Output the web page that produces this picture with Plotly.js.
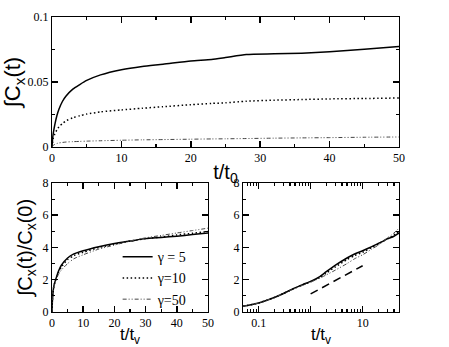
<!DOCTYPE html>
<html>
<head>
<meta charset="utf-8">
<script src="https://cdn.plot.ly/plotly-3.0.1.min.js"></script>
<style>
  html, body { margin: 0; padding: 0; background: #fff; }
  #chart { width: 449px; height: 347px; }
</style>
</head>
<body>
<div id="chart"></div>
<script>
// top panel: integral of C_x(t) vs t/t0
var tTop = [0, 0.1, 0.2, 0.4, 0.7, 1, 1.5, 2, 3, 4, 5, 7, 10, 13, 16, 20, 23, 25, 28, 32, 36, 40, 45, 50];
var topG5 = [0, 0.007, 0.011, 0.017, 0.024, 0.029, 0.035, 0.039, 0.0445, 0.048, 0.0512, 0.0555, 0.0595, 0.062, 0.0637, 0.0662, 0.0673, 0.0688, 0.0712, 0.0717, 0.0722, 0.0732, 0.0752, 0.0773];
var topG10 = [0, 0.004, 0.007, 0.010, 0.013, 0.0155, 0.018, 0.020, 0.0225, 0.024, 0.0253, 0.027, 0.0285, 0.0298, 0.031, 0.0325, 0.0335, 0.034, 0.0352, 0.036, 0.0365, 0.037, 0.0373, 0.0377];
var topG50 = [0, 0.0008, 0.0013, 0.002, 0.0027, 0.0031, 0.0035, 0.0038, 0.0041, 0.0043, 0.0045, 0.0048, 0.0052, 0.0055, 0.0057, 0.006, 0.0062, 0.0063, 0.0065, 0.0068, 0.007, 0.0072, 0.0075, 0.0077];

// bottom panels: normalized integral vs t/tv
var tNorm = [0, 0.05, 0.1, 0.2, 0.3, 0.5, 0.7, 1, 1.5, 2, 3, 5, 7, 10, 15, 20, 25, 30, 35, 40, 45, 50];
var normG5 = [0, 0.35, 0.56, 0.9, 1.15, 1.5, 1.7, 1.9, 2.2, 2.5, 2.9, 3.35, 3.6, 3.8, 4.05, 4.25, 4.4, 4.55, 4.62, 4.7, 4.8, 4.9];
var normG10 = [0, 0.35, 0.56, 0.9, 1.15, 1.48, 1.68, 1.88, 2.15, 2.42, 2.8, 3.25, 3.5, 3.7, 4.0, 4.2, 4.4, 4.55, 4.65, 4.78, 4.88, 5.0];
var normG50 = [0, 0.35, 0.56, 0.9, 1.14, 1.46, 1.65, 1.85, 2.1, 2.3, 2.6, 3.0, 3.3, 3.55, 3.9, 4.15, 4.4, 4.6, 4.75, 4.9, 5.05, 5.2];

// reference slope segment in the log panel
var tGuide = [1, 10];
var guideVals = [1.12, 2.87];

var seriesNames = ['\u03b3 = 5', '\u03b3=10', '\u03b3=50'];
var dashes = ['solid', '1.5px,2.5px', '4px,2px,1px,2px,1px,2px'];
var widths = [1.5, 1.5, 1];
var colors = ['black', 'black', '#444'];

var serif = 'Liberation Serif';
var sans = 'Liberation Sans';

var data = [];
[topG5, topG10, topG50].forEach(function (v, i) {
  data.push({x: tTop, y: v, xaxis: 'x', yaxis: 'y', mode: 'lines', showlegend: false,
    line: {color: colors[i], width: widths[i], dash: dashes[i], shape: 'spline', smoothing: 0.6}});
});
[normG5, normG10, normG50].forEach(function (v, i) {
  data.push({x: tNorm, y: v, xaxis: 'x2', yaxis: 'y2', mode: 'lines', name: seriesNames[i],
    line: {color: colors[i], width: widths[i], dash: dashes[i], shape: 'spline', smoothing: 0.6}});
});
[normG5, normG10, normG50].forEach(function (v, i) {
  data.push({x: tNorm.slice(1), y: v.slice(1), xaxis: 'x3', yaxis: 'y3', mode: 'lines', showlegend: false,
    line: {color: colors[i], width: widths[i], dash: dashes[i], shape: 'spline', smoothing: 0.6}});
});
data.push({x: tGuide, y: guideVals, xaxis: 'x3', yaxis: 'y3', mode: 'lines', showlegend: false,
  line: {color: 'black', width: 1.5, dash: '8px,5px'}});

function frame(extra) {
  var a = {
    showline: true, linecolor: '#000000', linewidth: 1, mirror: 'allticks',
    ticks: 'inside', ticklen: 6, tickcolor: '#000000', tickwidth: 1.5,
    showgrid: false, zeroline: false, layer: 'above traces',
    tickfont: {family: serif, size: 12, color: 'black'}
  };
  for (var k in extra) a[k] = extra[k];
  return a;
}

var minorLin = function (step) {
  return {dtick: step, ticks: 'inside', ticklen: 3, tickwidth: 1.2, tickcolor: '#000000'};
};

var logMinor = [0.05, 0.06, 0.07, 0.08, 0.09, 0.2, 0.3, 0.4, 0.5, 0.6, 0.7, 0.8, 0.9,
  2, 3, 4, 5, 6, 7, 8, 9, 20, 30, 40, 50];

var layout = {
  width: 449, height: 347,
  margin: {l: 0, r: 0, t: 0, b: 0},
  paper_bgcolor: 'white', plot_bgcolor: 'rgba(0,0,0,0)',
  font: {family: serif, color: 'black'},
  xaxis: frame({domain: [0.1158, 0.8886], anchor: 'y', range: [0, 50], dtick: 10,
    minor: minorLin(5),
    title: {text: 't/t<sub>0</sub>', font: {family: sans, size: 20, color: 'black'}, standoff: 0}}),
  yaxis: frame({domain: [0.5764, 0.951], anchor: 'x', range: [0, 0.1], dtick: 0.05,
    minor: minorLin(0.025),
    title: {text: '\u222bC<sub>x</sub>(t)', font: {family: sans, size: 22, color: 'black'}, standoff: 4}}),
  xaxis2: frame({domain: [0.1158, 0.4633], anchor: 'y2', range: [0, 50], dtick: 10,
    minor: minorLin(5),
    title: {text: 't/t<sub>v</sub>', font: {family: sans, size: 17, color: 'black'}, standoff: 2}}),
  yaxis2: frame({domain: [0.1009, 0.4726], anchor: 'x2', range: [0, 8], dtick: 2,
    minor: minorLin(1),
    title: {text: '\u222bC<sub>x</sub>(t)/C<sub>x</sub>(0)', font: {family: sans, size: 20, color: 'black'}, standoff: 4}}),
  xaxis3: frame({domain: [0.5412, 0.8886], anchor: 'y3', type: 'log',
    range: [Math.log10(0.05), Math.log10(50)],
    tickvals: [0.1, 1, 10], ticktext: ['0.1', '', '10'],
    minor: {tickvals: logMinor, ticks: 'inside', ticklen: 3, tickwidth: 1.2, tickcolor: '#000000'},
    title: {text: 't/t<sub>v</sub>', font: {family: sans, size: 17, color: 'black'}, standoff: 2}}),
  yaxis3: frame({domain: [0.1009, 0.4726], anchor: 'x3', range: [0, 8], dtick: 2,
    minor: minorLin(1)}),
  legend: {x: 0.262, y: 0.305, xanchor: 'left', yanchor: 'top', bgcolor: 'rgba(0,0,0,0)',
    font: {family: serif, size: 14, color: 'black'}, tracegroupgap: 0},
  showlegend: true
};

Plotly.newPlot('chart', data, layout, {staticPlot: true});
</script>
</body>
</html>
